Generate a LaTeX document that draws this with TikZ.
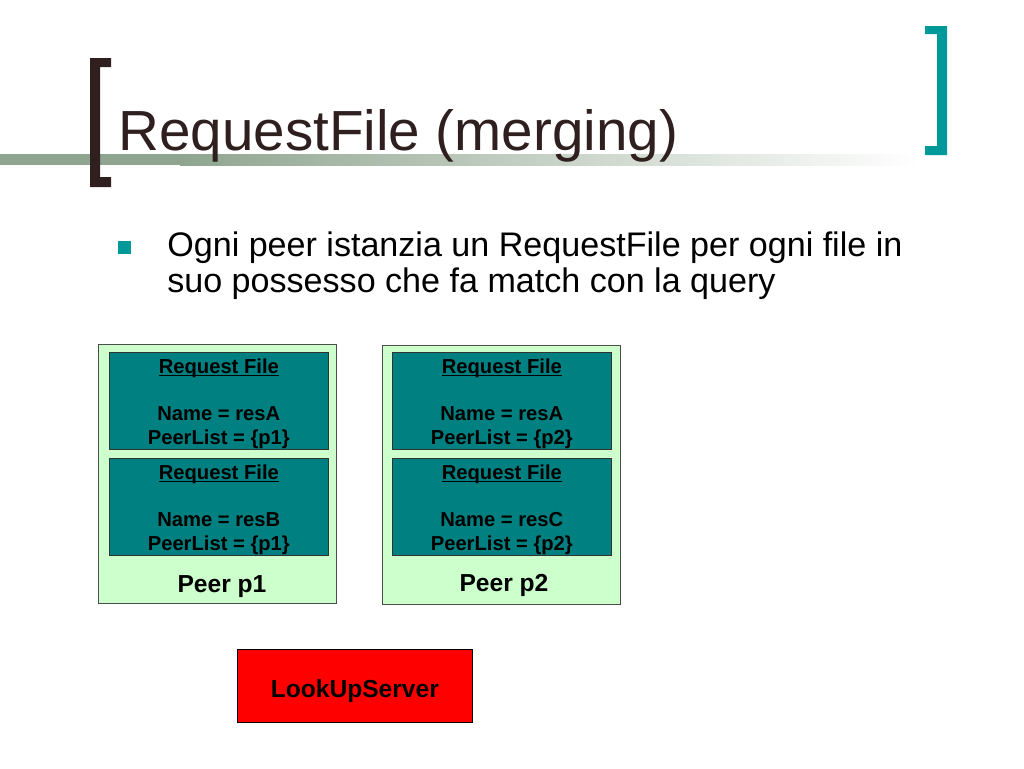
\documentclass[tikz,border=0pt]{standalone}
\usepackage{fontspec}
\setmainfont{Liberation Sans}
\usetikzlibrary{positioning}
\definecolor{bracketbrown}{RGB}{47,31,31}
\definecolor{bracketteal}{RGB}{0,153,153}
\definecolor{barsage}{RGB}{143,165,143}
\definecolor{rfteal}{RGB}{0,128,128}
\definecolor{peergreen}{RGB}{204,255,204}
\newcommand{\rfuline}[1]{\setbox0\hbox{#1}\rlap{\rule[-1.4pt]{\wd0}{0.7pt}}\box0}
\newcommand{\rfhead}{\rule{0pt}{11.8pt}\rfuline{Request File}}
\tikzset{
  peerbox/.style={draw=black!70, fill=peergreen, minimum width=4.76cm, minimum height=5.18cm, anchor=north west, inner sep=0pt},
  rfbox/.style={draw=black!80, fill=rfteal, minimum width=4.38cm, minimum height=1.94cm, inner sep=0pt, align=center, font=\fontsize{11.5}{13.4}\selectfont\bfseries},
  peerlabel/.style={anchor=base, inner sep=0pt, font=\fontsize{14}{16}\selectfont\bfseries},
  serverbox/.style={draw=black, fill=red, minimum width=4.7cm, minimum height=1.46cm, anchor=north west, text height=13pt, text depth=0pt, font=\fontsize{14}{16}\selectfont\bfseries},
}

\begin{document}
\begin{tikzpicture}[x=0.02cm, y=-0.02cm]

\useasboundingbox (0,0) rectangle (1024,768);

% title bar and brackets
\fill[barsage] (0,154) rectangle (180,165);
\shade[left color=barsage, right color=white] (180,154) rectangle (920,165);
\fill[bracketbrown] (90,58) -- (111,58) -- (111,67) -- (100,67) -- (100,177) -- (111,177) -- (111,187) -- (90,187) -- cycle;
\fill[bracketteal] (947,26) -- (925,26) -- (925,34) -- (937,34) -- (937,146) -- (925,146) -- (925,155) -- (947,155) -- cycle;

\node[anchor=base west, inner sep=0pt, text=bracketbrown, font=\fontsize{32.2}{36}\selectfont] (title) at (118,150) {RequestFile (merging)};

% bullet
\fill[bracketteal] (118,241) rectangle (131,254);
\node[anchor=base west, inner sep=0pt, font=\fontsize{19.4}{20.4}\selectfont] (bulletA) at (167,256) {Ogni peer istanzia un RequestFile per ogni file in};
\node[anchor=base west, inner sep=0pt, font=\fontsize{19.4}{20.4}\selectfont] (bulletB) at (167,292) {suo possesso che fa match con la query};

% peer p1
\node[peerbox] (peerA) at (98,344) {};
\node[rfbox, anchor=north west] (rfA1) at (109,352) {\rfhead\\[13.4pt]Name = resA\\PeerList = \{p1\}};
\node[rfbox, below=0.16cm of rfA1] (rfA2) {\rfhead\\[13.4pt]Name = resB\\PeerList = \{p1\}};
\node[peerlabel] (labelA) at (222,592) {Peer p1};

% peer p2
\node[peerbox] (peerB) at (382,345) {};
\node[rfbox, anchor=north west] (rfB1) at (392,352) {\rfhead\\[13.4pt]Name = resA\\PeerList = \{p2\}};
\node[rfbox, below=0.16cm of rfB1] (rfB2) {\rfhead\\[13.4pt]Name = resC\\PeerList = \{p2\}};
\node[peerlabel] (labelB) at (504,591) {Peer p2};

\node[serverbox] (server) at (237,649) {LookUpServer};

\end{tikzpicture}
\end{document}
